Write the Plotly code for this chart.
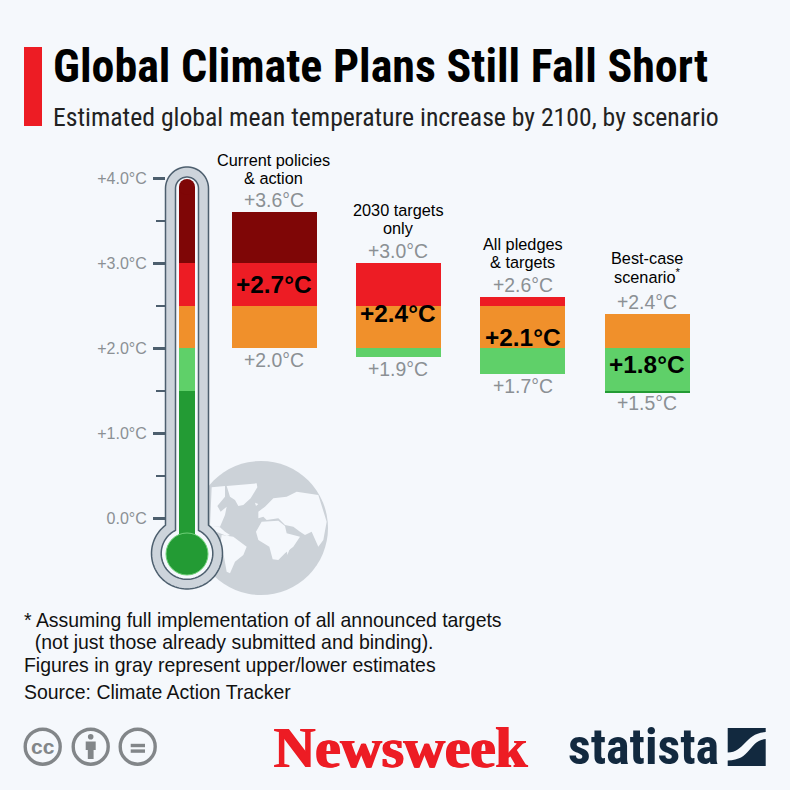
import numpy as np
import plotly.graph_objects as go

# chart data
scenarios = ["Current policies & action", "2030 targets only", "All pledges & targets", "Best-case scenario"]
scenario_lines = [["Current policies", "& action"], ["2030 targets", "only"],
                  ["All pledges", "& targets"], ["Best-case", "scenario<sup>*</sup>"]]
upper = [3.6, 3.0, 2.6, 2.4]
lower = [2.0, 1.9, 1.7, 1.47]
central = [2.7, 2.4, 2.1, 1.8]

band_edges = [-0.5, 1.5, 2.0, 2.5, 3.0, 3.9]
band_colors = ["#239b34", "#5fd069", "#f0902b", "#ed1c24", "#7f0606"]

major_ticks = [0, 1, 2, 3, 4]
major_labels = ["0.0°C", "+1.0°C", "+2.0°C", "+3.0°C", "+4.0°C"]
minor_ticks = [0.5, 1.5, 2.5, 3.5]

footnotes = ["* Assuming full implementation of all announced targets",
             "  (not just those already submitted and binding).",
             "Figures in gray represent upper/lower estimates",
             "Source: Climate Action Tracker"]

BG = "#f5f8fc"
GRAY = "#8b9094"
SLATE = "#4d5f6e"
NAVY = "#12293f"
ICON = "#828689"
SANS = "Liberation Sans"
COND = "Roboto Condensed, Roboto"


def px(x):
    return x / 790


def py(y):
    return 1 - y / 790


def poly(points, color):
    d = "M" + " L".join(f"{px(x):.5f},{py(y):.5f}" for x, y in points) + " Z"
    return dict(type="path", path=d, xref="paper", yref="paper", fillcolor=color, line_width=0, layer="below")


def circle(cx, cy, r, fill, line=None, lw=0, layer="below"):
    return dict(type="circle", xref="paper", yref="paper", x0=px(cx - r), x1=px(cx + r), y0=py(cy + r), y1=py(cy - r),
                fillcolor=fill, line=dict(color=line or fill, width=lw), layer=layer)


def rect(x0, y0, x1, y1, fill, layer="below"):
    return dict(type="rect", xref="paper", yref="paper", x0=px(x0), x1=px(x1), y0=py(y1), y1=py(y0),
                fillcolor=fill, line_width=0, layer=layer)


def tube(cx, top, r, cy, R):
    # thermometer outline: round top, straight tube, round bulb
    a = np.linspace(np.pi, 2 * np.pi, 30)
    pts = [(cx + r * np.cos(t), top + r + r * np.sin(t)) for t in a]
    start = np.arcsin(r / R)
    b = np.linspace(start, 2 * np.pi - start, 80)
    pts += [(cx + R * np.sin(t), cy - R * np.cos(t)) for t in b]
    d = "M" + " L".join(f"{px(x):.5f},{py(y):.5f}" for x, y in pts) + " Z"
    return d


def text(x, y, s, size, color="#000000", anchor="left", weight=None, family=SANS, shadow=None):
    return dict(xref="paper", yref="paper", x=px(x), y=py(y), text=s, showarrow=False, xanchor=anchor, yanchor="middle",
                font=dict(size=size, color=color, family=family, weight=weight, shadow=shadow))


fig = go.Figure()

# range bars split into colour bands
for lo, hi, color in zip(band_edges[:-1], band_edges[1:], band_colors):
    xs, bases, heights = [], [], []
    for name, u, l in zip(scenarios, upper, lower):
        if min(u, hi) > max(l, lo):
            xs.append(name)
            bases.append(max(l, lo))
            heights.append(min(u, hi) - max(l, lo))
    fig.add_trace(go.Bar(x=xs, y=heights, base=bases, width=0.684, marker=dict(color=color, line_width=0),
                         xaxis="x", yaxis="y", showlegend=False))
    # thermometer column
    fig.add_trace(go.Bar(x=["Thermometer"], y=[hi - lo], base=[lo], width=1,
                         marker=dict(color=color, line_width=0),
                         xaxis="x2", yaxis="y", showlegend=False))

shapes = []
# globe
shapes.append(circle(261, 528, 67, "#ccd2d8"))
land = [
    [(290, 258), (380, 250), (382, 262), (362, 295), (340, 315), (325, 318), (315, 300), (300, 290)],
    [(245, 262), (285, 258), (285, 290), (262, 318), (272, 335), (290, 320), (285, 345), (270, 380), (240, 380)],
    [(245, 378), (270, 382), (285, 395), (300, 405), (290, 408), (270, 400), (245, 390)],
    [(275, 405), (310, 410), (350, 440), (340, 465), (315, 485), (300, 520), (290, 515), (282, 470), (270, 440)],
    [(378, 395), (395, 365), (445, 362), (465, 378), (470, 400), (510, 410), (490, 440), (465, 460), (445, 480),
     (428, 478), (418, 440), (385, 420)],
    [(385, 355), (385, 335), (405, 320), (430, 295), (470, 290), (500, 275), (565, 285), (590, 365), (580, 420),
     (565, 440), (545, 395), (525, 405), (510, 395), (490, 380), (465, 375), (445, 355), (410, 360), (400, 350)],
    [(470, 445), (480, 445), (472, 465)],
    [(375, 308), (385, 312), (378, 318)],
]
for piece in land:
    shapes.append(poly([(130 + x / 3, 400 + y / 3) for x, y in piece], BG))

# thermometer body
shapes.append(dict(type="path", path=tube(187, 167, 21.5, 553.5, 35.5), xref="paper", yref="paper",
                   fillcolor="#cdd4db", line=dict(color=SLATE, width=1.5), layer="below"))
shapes.append(dict(type="path", path=tube(187, 177, 11.5, 553.5, 25.8), xref="paper", yref="paper",
                   fillcolor=BG, line=dict(color=SLATE, width=1.5), layer="below"))
shapes.append(circle(187, 554, 21, band_colors[0], "#6fcf78", 1, layer="above"))
shapes.append(circle(187, 187, 8, band_colors[-1], layer="above"))

# red title marker
shapes.append(rect(24, 47, 42, 126, "#ed1c24"))

# cc icons
for cx in [42.7, 90.7, 137.7]:
    shapes.append(circle(cx, 746.7, 17.5, BG, ICON, 3.4))
shapes.append(circle(90.7, 736.7, 2.8, ICON))
shapes.append(rect(85.7, 741.5, 95.7, 750, ICON))
shapes.append(rect(87.8, 749, 93.6, 759, ICON))
shapes.append(rect(130.7, 743.8, 145, 747.2, ICON))
shapes.append(rect(130.7, 749.4, 145, 752.8, ICON))

# statista mark
shapes.append(dict(type="path", xref="paper", yref="paper", fillcolor=NAVY, line_width=0, layer="below",
                   path=f"M{px(727.7)},{py(728)} L{px(765.7)},{py(728)} L{px(765.7)},{py(732)} "
                        f"C{px(745)},{py(733)} {px(745)},{py(752)} {px(727.7)},{py(752.5)} Z"))
shapes.append(dict(type="path", xref="paper", yref="paper", fillcolor=NAVY, line_width=0, layer="below",
                   path=f"M{px(765.7)},{py(739)} L{px(765.7)},{py(766)} L{px(727.7)},{py(766)} L{px(727.7)},{py(760.5)} "
                        f"C{px(752)},{py(760)} {px(748)},{py(741)} {px(765.7)},{py(739)} Z"))

ann = []
label_shift = [4, 1, 2, 1]
title_shift = [-1, 0, 0, 3]
for name, lines, u, l, c, shift, ts in zip(scenarios, scenario_lines, upper, lower, central, label_shift, title_shift):
    ann.append(dict(x=name, y=u, xref="x", yref="y", text=f"{u:+.1f}°C", showarrow=False, yanchor="middle", yshift=12,
                    font=dict(size=19.4, color=GRAY, family=SANS)))
    ann.append(dict(x=name, y=round(l, 1), xref="x", yref="y", text=f"{l:+.1f}°C", showarrow=False, yanchor="middle",
                    yshift=-12, font=dict(size=19.4, color=GRAY, family=SANS)))
    ann.append(dict(x=name, y=c, xref="x", yref="y", text=f"{c:+.1f}°C", showarrow=False, yanchor="middle", yshift=shift,
                    font=dict(size=24.4, color="#000000", family=SANS, weight="bold")))
    for i, line in enumerate(lines):
        ann.append(dict(x=name, y=u, xref="x", yref="y", text=line, showarrow=False, yanchor="middle",
                        yshift=35 + ts + (len(lines) - 1 - i) * 18, font=dict(size=16.3, color="#000000", family=SANS)))

ann.append(text(51, 66, "Global Climate Plans Still Fall Short", 46, weight="bold", family=COND))
ann.append(text(51, 117, "Estimated global mean temperature increase by 2100, by scenario", 25.7, color="#222222", family=COND))
for s, y in zip(footnotes, [620, 642, 665, 692]):
    ann.append(text(22, y, s.replace("  ", "&nbsp;&nbsp;"), 19.45, color="#111111"))
ann.append(text(42.7, 746.7, "cc", 21, color=ICON, anchor="center", weight="bold"))
ann.append(text(272, 747, "Newsweek", 57, color="#ed1c24", weight="bold", family="Liberation Serif",
                shadow="1px 0 0 #ed1c24, -1px 0 0 #ed1c24"))
ann.append(text(566, 747, "statista", 50, color=NAVY, weight="bold", family=COND))

fig.update_layout(
    width=790, height=790, margin=dict(l=0, r=0, t=0, b=0), autosize=False,
    paper_bgcolor=BG, plot_bgcolor="rgba(0,0,0,0)", barmode="overlay", bargap=0,
    xaxis=dict(domain=[px(211.8), px(709.2)], range=[-0.5, 3.5], type="category", categoryorder="array",
               categoryarray=scenarios, visible=False, anchor="y"),
    xaxis2=dict(domain=[px(179), px(195)], range=[-0.5, 0.5], type="category", visible=False, anchor="y"),
    yaxis=dict(domain=[0, 1], range=[-272 / 85, 518 / 85], anchor="free", position=px(165), side="left",
               showgrid=False, zeroline=False, showline=False, ticklabelstandoff=3,
               tickmode="array", tickvals=major_ticks, ticktext=major_labels, ticks="outside", ticklen=12, tickwidth=3,
               tickcolor=SLATE, tickfont=dict(size=16, color=GRAY, family=SANS),
               minor=dict(tickmode="array", tickvals=minor_ticks, ticks="outside", ticklen=9, tickwidth=1.5,
                          tickcolor=SLATE, showgrid=False)),
    shapes=shapes, annotations=ann, showlegend=False, hovermode=False,
)

fig.write_html("out.html", post_script="document.body.style.margin='0';", config=dict(displayModeBar=False))
